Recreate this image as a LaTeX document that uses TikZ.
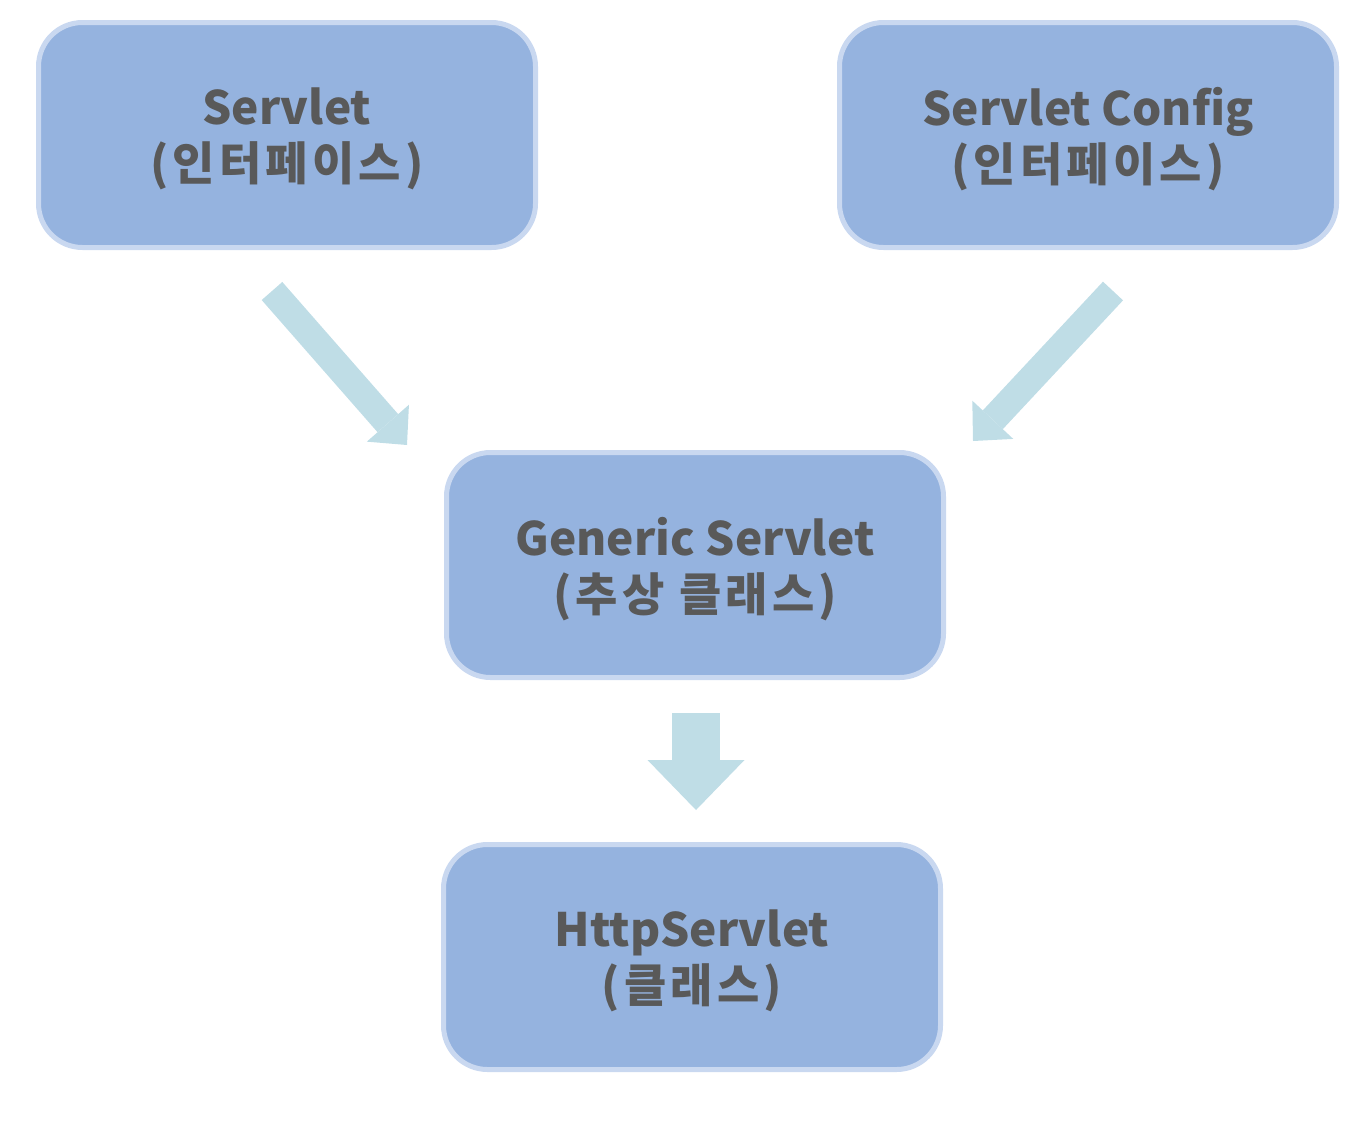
\documentclass[tikz,border=0pt]{standalone}
\usepackage{fontspec}
\newfontfamily\kr{Noto Sans CJK KR}
\newfontfamily\krw{Noto Sans CJK KR}[LetterSpace=9]
\usetikzlibrary{arrows.meta}
\definecolor{boxfill}{RGB}{149,179,223}
\definecolor{boxline}{RGB}{201,216,240}
\definecolor{txt}{RGB}{89,89,89}
\definecolor{arr}{RGB}{191,221,230}
\begin{document}
\begin{tikzpicture}[x=0.5pt,y=-0.5pt,
  box/.style={draw=boxline, line width=2.5pt, fill=boxfill, rounded corners=22pt,
    minimum width=248.5pt, minimum height=112.5pt, align=center, text=txt,
    font=\kr\bfseries\fontsize{23}{28}\selectfont, inner sep=0pt, text depth=0.5pt},
  diagarrow/.style={draw=arr, line width=13.7pt,
    -{Triangle[length=14.5pt, width=28pt, line width=0pt]}},
  downarrow/.style={draw=arr, line width=24pt,
    -{Triangle[length=25pt, width=48.5pt, line width=0pt]}}]
\useasboundingbox (0,0) rectangle (1366,1126);
\node[box] (servlet) at (287,135) {Servlet\\{\krw\bfseries (인터페이스)}};
\node[box] (config) at (1088,135) {Servlet Config\\{\krw\bfseries (인터페이스)}};
\node[box] (generic) at (695,565) {Generic Servlet\\{\krw\bfseries (추상 클래스)}};
\node[box] (http) at (692,957) {HttpServlet\\{\krw\bfseries (클래스)}};
\coordinate (a1s) at (272,291);
\coordinate (a1e) at (407,445);
\coordinate (a2s) at (1113,291);
\coordinate (a2e) at (973,441);
\coordinate (a3s) at (696,713);
\coordinate (a3e) at (696,810);
\draw[diagarrow] (a1s) -- (a1e);
\draw[diagarrow] (a2s) -- (a2e);
\draw[downarrow] (a3s) -- (a3e);
\end{tikzpicture}
\end{document}
